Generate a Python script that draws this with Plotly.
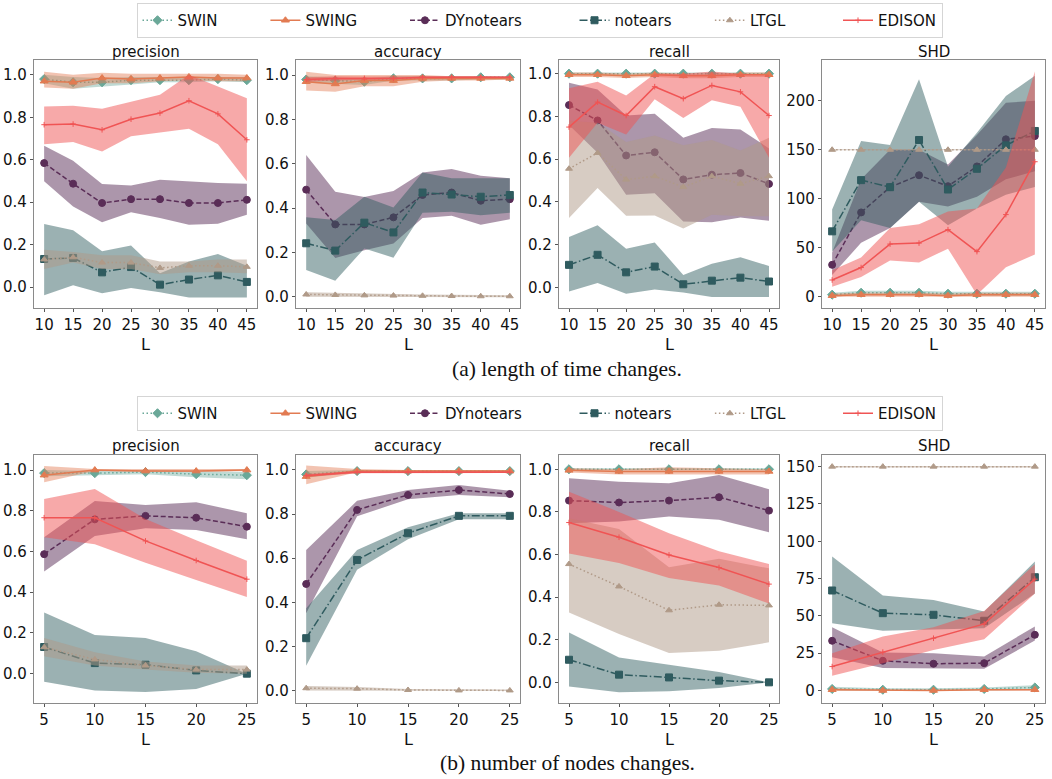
import plotly.graph_objects as go

# ---------------- x values ----------------
x_a = [10, 15, 20, 25, 30, 35, 40, 45]   # (a) length of time
x_b = [5, 10, 15, 20, 25]                # (b) number of nodes

methods = ["SWIN", "SWING", "DYnotears", "notears", "LTGL", "EDISON"]
metrics = ["precision", "accuracy", "recall", "SHD"]

# ================= (a) precision =================
a_prec_SWIN = [0.98, 0.965, 0.965, 0.975, 0.975, 0.975, 0.98, 0.975]
a_prec_SWIN_lo = [0.96, 0.935, 0.945, 0.955, 0.965, 0.965, 0.97, 0.965]
a_prec_SWIN_hi = [1.0, 0.99, 0.985, 0.99, 0.99, 0.99, 0.99, 0.99]
a_prec_SWING = [0.97, 0.965, 0.985, 0.98, 0.985, 0.99, 0.985, 0.985]
a_prec_SWING_lo = [0.94, 0.935, 0.96, 0.96, 0.97, 0.975, 0.97, 0.97]
a_prec_SWING_hi = [1.015, 1.0, 1.01, 1.005, 1.005, 1.005, 1.005, 1.0]
a_prec_DY = [0.584, 0.487, 0.396, 0.414, 0.414, 0.396, 0.396, 0.411]
a_prec_DY_lo = [0.498, 0.38, 0.305, 0.352, 0.325, 0.294, 0.298, 0.341]
a_prec_DY_hi = [0.666, 0.595, 0.485, 0.479, 0.505, 0.498, 0.49, 0.487]
a_prec_NT = [0.132, 0.137, 0.069, 0.094, 0.011, 0.035, 0.055, 0.024]
a_prec_NT_lo = [-0.039, 0.008, -0.03, -0.005, -0.025, -0.05, -0.05, -0.05]
a_prec_NT_hi = [0.297, 0.267, 0.168, 0.196, 0.065, 0.12, 0.155, 0.10]
a_prec_LTGL = [0.13, 0.14, 0.115, 0.115, 0.09, 0.10, 0.10, 0.095]
a_prec_LTGL_lo = [0.085, 0.115, 0.085, 0.085, 0.06, 0.07, 0.07, 0.065]
a_prec_LTGL_hi = [0.175, 0.165, 0.15, 0.15, 0.12, 0.12, 0.13, 0.13]
a_prec_ED = [0.765, 0.768, 0.741, 0.791, 0.82, 0.878, 0.816, 0.694]
a_prec_ED_lo = [0.673, 0.683, 0.639, 0.71, 0.728, 0.746, 0.673, 0.498]
a_prec_ED_hi = [0.851, 0.854, 0.84, 0.874, 0.906, 1.0, 0.945, 0.89]

# ================= (a) accuracy =================
a_acc_SWIN = [0.98, 0.975, 0.97, 0.985, 0.985, 0.985, 0.99, 0.99]
a_acc_SWIN_lo = [0.965, 0.96, 0.955, 0.975, 0.975, 0.975, 0.98, 0.98]
a_acc_SWIN_hi = [0.995, 0.99, 0.985, 0.995, 0.995, 0.995, 0.995, 0.995]
a_acc_SWING = [0.97, 0.96, 0.975, 0.975, 0.985, 0.985, 0.985, 0.985]
a_acc_SWING_lo = [0.93, 0.925, 0.95, 0.95, 0.97, 0.975, 0.975, 0.98]
a_acc_SWING_hi = [1.015, 1.0, 1.0, 1.0, 1.0, 0.995, 0.995, 0.99]
a_acc_DY = [0.483, 0.326, 0.326, 0.358, 0.459, 0.47, 0.433, 0.44]
a_acc_DY_lo = [0.33, 0.175, 0.21, 0.24, 0.355, 0.365, 0.325, 0.35]
a_acc_DY_hi = [0.639, 0.474, 0.45, 0.477, 0.56, 0.576, 0.546, 0.534]
a_acc_NT = [0.241, 0.208, 0.334, 0.29, 0.47, 0.461, 0.451, 0.459]
a_acc_NT_lo = [0.12, 0.072, 0.218, 0.176, 0.379, 0.383, 0.368, 0.379]
a_acc_NT_hi = [0.358, 0.346, 0.451, 0.403, 0.56, 0.534, 0.534, 0.534]
a_acc_LTGL = [0.01, 0.008, 0.006, 0.005, 0.004, 0.003, 0.002, 0.002]
a_acc_LTGL_lo = [0.0, 0.0, -0.002, -0.002, -0.003, -0.003, -0.003, -0.003]
a_acc_LTGL_hi = [0.02, 0.017, 0.014, 0.012, 0.01, 0.009, 0.008, 0.007]
a_acc_ED = [0.98, 0.985, 0.985, 0.985, 0.99, 0.99, 0.99, 0.99]
a_acc_ED_lo = [0.97, 0.975, 0.978, 0.98, 0.985, 0.985, 0.985, 0.986]
a_acc_ED_hi = [0.99, 0.995, 0.993, 0.993, 0.995, 0.995, 0.995, 0.995]

# ================= (a) recall =================
a_rec_SWIN = [1.0, 1.0, 1.0, 1.0, 1.0, 1.0, 1.0, 1.0]
a_rec_SWIN_lo = [0.995, 0.995, 0.995, 0.995, 0.995, 0.995, 0.995, 0.995]
a_rec_SWIN_hi = [1.005, 1.005, 1.005, 1.005, 1.005, 1.005, 1.005, 1.005]
a_rec_SWING = [0.995, 0.995, 0.99, 0.995, 0.99, 0.99, 0.995, 0.995]
a_rec_SWING_lo = [0.985, 0.985, 0.98, 0.985, 0.978, 0.978, 0.985, 0.985]
a_rec_SWING_hi = [1.005, 1.005, 1.0, 1.005, 1.0, 1.0, 1.005, 1.005]
a_rec_DY = [0.853, 0.781, 0.617, 0.632, 0.505, 0.527, 0.535, 0.484]
a_rec_DY_lo = [0.76, 0.63, 0.433, 0.44, 0.308, 0.304, 0.327, 0.311]
a_rec_DY_hi = [0.958, 0.926, 0.804, 0.812, 0.7, 0.746, 0.739, 0.65]
a_rec_NT = [0.105, 0.152, 0.07, 0.097, 0.014, 0.031, 0.045, 0.027]
a_rec_NT_lo = [-0.02, 0.02, -0.03, -0.01, -0.025, -0.045, -0.045, -0.045]
a_rec_NT_hi = [0.235, 0.29, 0.18, 0.21, 0.058, 0.11, 0.14, 0.10]
a_rec_LTGL = [0.555, 0.629, 0.504, 0.52, 0.469, 0.52, 0.485, 0.52]
a_rec_LTGL_lo = [0.324, 0.465, 0.335, 0.336, 0.275, 0.34, 0.332, 0.332]
a_rec_LTGL_hi = [0.78, 0.77, 0.68, 0.71, 0.665, 0.69, 0.64, 0.70]
a_rec_ED = [0.75, 0.867, 0.804, 0.939, 0.883, 0.945, 0.915, 0.804]
a_rec_ED_lo = [0.606, 0.77, 0.715, 0.88, 0.793, 0.876, 0.845, 0.606]
a_rec_ED_hi = [0.932, 0.962, 0.898, 1.0, 1.0, 1.01, 1.0, 0.995]

# ================= (a) SHD =================
a_shd_SWIN = [2, 4, 4, 4, 3, 3, 3, 3]
a_shd_SWIN_lo = [0, 2, 2, 2, 1, 1, 1, 1]
a_shd_SWIN_hi = [4, 6, 6, 6, 5, 5, 5, 5]
a_shd_SWING = [1, 2, 2, 2, 1, 2, 2, 2]
a_shd_SWING_lo = [0, 0, 0, 0, 0, 0, 0, 0]
a_shd_SWING_hi = [3, 4, 4, 4, 3, 4, 4, 4]
a_shd_DY = [32.5, 86, 111.8, 124, 112.8, 133, 160.7, 164]
a_shd_DY_lo = [22, 55, 70, 97, 92, 102, 120, 128]
a_shd_DY_hi = [45, 120, 150, 150, 135, 165, 198, 200]
a_shd_NT = [66.7, 119, 111.8, 160, 109.4, 130.6, 154.5, 169.2]
a_shd_NT_lo = [46, 78, 70, 97, 73, 90, 104, 112]
a_shd_NT_hi = [88.9, 159, 155, 222, 132.6, 167.5, 205, 225.6]
a_shd_LTGL = [150, 150, 150, 150, 150, 150, 150, 150]
a_shd_LTGL_lo = [149.5, 149.5, 149.5, 149.5, 149.5, 149.5, 149.5, 149.5]
a_shd_LTGL_hi = [150.5, 150.5, 150.5, 150.5, 150.5, 150.5, 150.5, 150.5]
a_shd_ED = [17, 29.7, 53.7, 54.7, 68.4, 46, 83.8, 137.8]
a_shd_ED_lo = [10, 20, 37, 35, 49, 2, 30, 43]
a_shd_ED_hi = [27, 40, 70, 74, 87, 90, 132, 230]

# ================= (b) precision =================
b_prec_SWIN = [0.985, 0.985, 0.99, 0.98, 0.975]
b_prec_SWIN_lo = [0.97, 0.975, 0.98, 0.965, 0.955]
b_prec_SWIN_hi = [1.0, 0.995, 1.0, 0.995, 0.99]
b_prec_SWING = [0.975, 1.0, 0.995, 0.995, 1.0]
b_prec_SWING_lo = [0.94, 0.995, 0.99, 0.99, 0.995]
b_prec_SWING_hi = [1.02, 1.005, 1.005, 1.005, 1.005]
b_prec_DY = [0.587, 0.758, 0.775, 0.766, 0.722]
b_prec_DY_lo = [0.502, 0.676, 0.714, 0.706, 0.66]
b_prec_DY_hi = [0.67, 0.848, 0.828, 0.842, 0.788]
b_prec_NT = [0.131, 0.052, 0.044, 0.016, 0.0]
b_prec_NT_lo = [-0.04, -0.083, -0.09, -0.075, 0.0]
b_prec_NT_hi = [0.3, 0.19, 0.175, 0.11, 0.0]
b_prec_LTGL = [0.13, 0.07, 0.04, 0.02, 0.02]
b_prec_LTGL_lo = [0.085, 0.04, 0.02, 0.005, 0.0]
b_prec_LTGL_hi = [0.175, 0.105, 0.06, 0.04, 0.04]
b_prec_ED = [0.766, 0.766, 0.652, 0.556, 0.464]
b_prec_ED_lo = [0.67, 0.636, 0.545, 0.46, 0.376]
b_prec_ED_hi = [0.858, 0.907, 0.76, 0.655, 0.555]

# ================= (b) accuracy =================
b_acc_SWIN = [0.98, 0.995, 0.995, 0.995, 0.995]
b_acc_SWIN_lo = [0.965, 0.99, 0.99, 0.99, 0.99]
b_acc_SWIN_hi = [0.995, 1.0, 1.0, 1.0, 1.0]
b_acc_SWING = [0.97, 0.995, 0.995, 0.995, 0.995]
b_acc_SWING_lo = [0.935, 0.99, 0.99, 0.99, 0.99]
b_acc_SWING_hi = [1.02, 1.005, 1.0, 1.0, 1.0]
b_acc_DY = [0.483, 0.819, 0.887, 0.909, 0.891]
b_acc_DY_lo = [0.35, 0.79, 0.867, 0.887, 0.876]
b_acc_DY_hi = [0.637, 0.86, 0.909, 0.932, 0.906]
b_acc_NT = [0.237, 0.592, 0.713, 0.792, 0.792]
b_acc_NT_lo = [0.112, 0.547, 0.686, 0.776, 0.776]
b_acc_NT_hi = [0.373, 0.637, 0.74, 0.804, 0.804]
b_acc_LTGL = [0.01, 0.008, 0.002, 0.0, 0.0]
b_acc_LTGL_lo = [0.0, 0.0, -0.003, -0.003, -0.003]
b_acc_LTGL_hi = [0.02, 0.016, 0.007, 0.004, 0.004]
b_acc_ED = [0.975, 0.99, 0.99, 0.99, 0.99]
b_acc_ED_lo = [0.968, 0.985, 0.986, 0.986, 0.986]
b_acc_ED_hi = [0.982, 0.995, 0.994, 0.994, 0.994]

# ================= (b) recall =================
b_rec_SWIN = [1.0, 1.0, 1.0, 1.0, 1.0]
b_rec_SWIN_lo = [0.995, 0.995, 0.995, 0.995, 0.995]
b_rec_SWIN_hi = [1.005, 1.005, 1.005, 1.005, 1.005]
b_rec_SWING = [0.995, 0.99, 0.99, 0.99, 0.99]
b_rec_SWING_lo = [0.985, 0.975, 0.975, 0.975, 0.975]
b_rec_SWING_hi = [1.005, 1.0, 1.01, 1.005, 1.0]
b_rec_DY = [0.853, 0.844, 0.853, 0.869, 0.806]
b_rec_DY_lo = [0.747, 0.755, 0.778, 0.763, 0.705]
b_rec_DY_hi = [0.958, 0.942, 0.934, 0.973, 0.906]
b_rec_NT = [0.106, 0.036, 0.023, 0.008, 0.0]
b_rec_NT_lo = [-0.02, -0.047, -0.042, -0.027, 0.0]
b_rec_NT_hi = [0.234, 0.117, 0.083, 0.048, 0.0]
b_rec_LTGL = [0.555, 0.45, 0.338, 0.364, 0.361]
b_rec_LTGL_lo = [0.328, 0.227, 0.138, 0.148, 0.188]
b_rec_LTGL_hi = [0.77, 0.72, 0.54, 0.58, 0.535]
b_rec_ED = [0.75, 0.681, 0.598, 0.539, 0.461]
b_rec_ED_lo = [0.605, 0.56, 0.49, 0.455, 0.37]
b_rec_ED_hi = [0.895, 0.80, 0.70, 0.615, 0.555]

# ================= (b) SHD =================
b_shd_SWIN = [1, 0.5, 0.5, 1, 2]
b_shd_SWIN_lo = [0, 0, 0, 0, 0.5]
b_shd_SWIN_hi = [2.5, 1.5, 1.5, 2, 3.5]
b_shd_SWING = [0.5, 0, 0, 0.5, 0.5]
b_shd_SWING_lo = [0, -0.5, -0.5, 0, 0]
b_shd_SWING_hi = [1.5, 0.5, 0.5, 1, 1]
b_shd_DY = [33.3, 19.9, 17.9, 18.3, 37.3]
b_shd_DY_lo = [22.3, 15, 15, 14.5, 33.5]
b_shd_DY_hi = [42.4, 25.4, 25, 22.8, 42.9]
b_shd_NT = [67, 51.8, 50.7, 46.7, 75.9]
b_shd_NT_lo = [45, 40, 40.6, 41.7, 65]
b_shd_NT_hi = [89.7, 63.6, 60.7, 52.9, 86.4]
b_shd_LTGL = [150, 150, 150, 150, 150]
b_shd_LTGL_lo = [149.5, 149.5, 149.5, 149.5, 149.5]
b_shd_LTGL_hi = [150.5, 150.5, 150.5, 150.5, 150.5]
b_shd_ED = [16, 25.7, 35, 44.6, 74.6]
b_shd_ED_lo = [9.8, 18.3, 27.2, 34.4, 65]
b_shd_ED_hi = [25, 36.2, 42.4, 53.3, 84.6]

# tick labels
ticks_unit = [0.0, 0.2, 0.4, 0.6, 0.8, 1.0]
ticks_shd_a = [0, 50, 100, 150, 200]
ticks_shd_b = [0, 25, 50, 75, 100, 125, 150]

captions = ["(a) length of time changes.", "(b) number of nodes changes."]

# ---------------- build tables from the arrays ----------------
g = globals()
keys = {"SWIN": "SWIN", "SWING": "SWING", "DYnotears": "DY",
        "notears": "NT", "LTGL": "LTGL", "EDISON": "ED"}
mkeys = {"precision": "prec", "accuracy": "acc", "recall": "rec", "SHD": "shd"}


def series(row, metric, method):
    base = f"{row}_{mkeys[metric]}_{keys[method]}"
    return g[base], g[base + "_lo"], g[base + "_hi"]


# ---------------- styles ----------------
style = {
    "SWIN": dict(color="#6aa898", band="rgba(106,168,152,0.42)", dash="1.5px,2.5px",
                 symbol="diamond", size=7),
    "SWING": dict(color="#e27b52", band="rgba(226,123,82,0.45)", dash="solid",
                  symbol="triangle-up", size=7),
    "DYnotears": dict(color="#5a2d57", band="rgba(90,45,87,0.5)", dash="5px,2.5px",
                      symbol="circle", size=7),
    "notears": dict(color="#2f5b5f", band="rgba(47,91,95,0.48)",
                    dash="8px,2.5px,1.5px,2.5px", symbol="square", size=7),
    "LTGL": dict(color="#b09a88", band="rgba(176,154,136,0.5)", dash="1.5px,2.5px",
                 symbol="triangle-up", size=6),
    "EDISON": dict(color="#f05454", band="rgba(240,84,84,0.5)", dash="solid",
                   symbol="cross-thin", size=4),
}
legend_pad = {"SWIN": 9, "SWING": 9, "DYnotears": 10, "notears": 7, "LTGL": 10, "EDISON": 0}

W, H = 1052, 779
cols_px = [(34, 257), (296, 520), (559, 779), (822, 1045)]
rows_px = [(60, 308), (455, 703)]
yranges = {
    ("a", "precision"): [-0.099, 1.07], ("a", "accuracy"): [-0.051, 1.068],
    ("a", "recall"): [-0.097, 1.064], ("a", "SHD"): [-11.6, 241.7],
    ("b", "precision"): [-0.144, 1.074], ("b", "accuracy"): [-0.057, 1.068],
    ("b", "recall"): [-0.097, 1.067], ("b", "SHD"): [-8.4, 157.8],
}
xs = {"a": x_a, "b": x_b}
xranges = {"a": [8.25, 46.75], "b": [4.0, 26.0]}
xticks = {"a": x_a, "b": x_b}

NBSP = "\u00a0"

fig = go.Figure()
layout = dict(width=W, height=H, margin=dict(l=0, r=0, t=0, b=0),
              paper_bgcolor="white", plot_bgcolor="white", showlegend=True)
annotations = []

tick_font = dict(family="DejaVu Sans", size=15, color="#111")
axis_common = dict(showline=True, linecolor="#8a8a8a", linewidth=1.2, mirror=True,
                   ticks="outside", ticklen=3, tickcolor="#555", showgrid=False,
                   zeroline=False, tickfont=tick_font)

idx = 0
for r, row in enumerate(["a", "b"]):
    ytop, ybot = rows_px[r]
    ydom = [1 - ybot / H, 1 - ytop / H]
    for c, metric in enumerate(metrics):
        idx += 1
        sfx = "" if idx == 1 else str(idx)
        xl, xr = cols_px[c]
        xdom = [xl / W, xr / W]
        x = xs[row]
        if metric == "SHD":
            yt = ticks_shd_a if row == "a" else ticks_shd_b
            yfmt = None
        else:
            yt = ticks_unit
            yfmt = ".1f"
        layout["xaxis" + sfx] = dict(axis_common, domain=xdom, anchor="y" + sfx,
                                     range=xranges[row], tickvals=xticks[row])
        ya = dict(axis_common, domain=ydom, anchor="x" + sfx,
                  range=yranges[(row, metric)], tickvals=yt)
        if yfmt:
            ya["tickformat"] = yfmt
        layout["yaxis" + sfx] = ya

        for m in methods:
            mean, lo, hi = series(row, metric, m)
            st = style[m]
            fig.add_trace(go.Scatter(
                x=list(x) + list(x)[::-1], y=list(hi) + list(lo)[::-1],
                fill="toself", fillcolor=st["band"], line=dict(width=0),
                mode="lines", hoverinfo="skip", showlegend=False,
                xaxis="x" + sfx, yaxis="y" + sfx))
            name = m + NBSP * legend_pad[m]
            fig.add_trace(go.Scatter(
                x=x, y=mean, mode="lines+markers", name=name,
                line=dict(color=st["color"], width=1.5, dash=st["dash"]),
                marker=dict(symbol=st["symbol"], size=st["size"], color=st["color"],
                            line=dict(width=1, color=st["color"])),
                showlegend=(c == 0), legend=("legend" if row == "a" else "legend2"),
                xaxis="x" + sfx, yaxis="y" + sfx))

        # subplot title
        annotations.append(dict(text=metric, x=(xl + xr) / 2 / W, y=1 - (ytop - 8.5) / H,
                                xref="paper", yref="paper", showarrow=False,
                                xanchor="center", yanchor="middle",
                                font=dict(family="DejaVu Sans", size=15, color="#111")))
        # x label
        annotations.append(dict(text="L", x=(xl + xr) / 2 / W, y=1 - (ybot + 36) / H,
                                xref="paper", yref="paper", showarrow=False,
                                xanchor="center", yanchor="middle",
                                font=dict(family="DejaVu Sans", size=16, color="#111")))

# captions
for r, cap in enumerate(captions):
    yc = 369 if r == 0 else 763
    annotations.append(dict(text=cap, x=567 / W, y=1 - yc / H, xref="paper", yref="paper",
                            showarrow=False, xanchor="center", yanchor="middle",
                            font=dict(family="Liberation Serif", size=21.5, color="#111")))

legend_common = dict(orientation="h", xanchor="center", x=539.5 / W, yanchor="top",
                     font=dict(family="DejaVu Sans", size=15, color="#111"),
                     bgcolor="white", bordercolor="#d5d5d5", borderwidth=1)
layout["legend"] = dict(legend_common, y=1 - 3 / H)
layout["legend2"] = dict(legend_common, y=1 - 396 / H)
layout["annotations"] = annotations

fig.update_layout(**layout)
fig.write_html("out.html", config={"displayModeBar": False},
               post_script="document.body.style.margin='0px';document.body.style.overflow='hidden';")
